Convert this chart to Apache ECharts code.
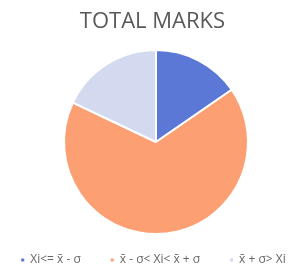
<!DOCTYPE html>
<html>
<head>
<meta charset="utf-8">
<script src="https://cdn.jsdelivr.net/npm/echarts@6/dist/echarts.min.js"></script>
<style>
  html, body { margin: 0; padding: 0; background: #fff; }
  #main { width: 305px; height: 276px; }
</style>
</head>
<body>
<div id="main"></div>
<script>
// 数据
const categories = ['Xi<= x̄ - σ', 'x̄ - σ< Xi< x̄ + σ', 'x̄ + σ> Xi'];
const counts = [6, 26, 7];
const colors = ['#5b78d6', '#fca074', '#d3daf0'];

const chart = echarts.init(document.getElementById('main'));

chart.setOption({
  animation: false,
  title: {
    text: 'TOTAL MARKS',
    left: 'center',
    top: 6,
    textStyle: { fontFamily: 'Open Sans', fontSize: 22, fontWeight: 'normal', color: '#595959' }
  },
  legend: {
    bottom: 5,
    left: 'center',
    itemWidth: 5,
    itemHeight: 5,
    itemGap: 28,
    icon: 'rect',
    textStyle: { fontFamily: 'Open Sans', fontSize: 12, color: '#666' },
    data: categories
  },
  color: colors,
  series: [{
    type: 'pie',
    center: [156, 142],
    radius: 92,
    startAngle: 90,
    clockwise: true,
    label: { show: false },
    labelLine: { show: false },
    itemStyle: { borderColor: '#fff', borderWidth: 2 },
    data: categories.map((c, i) => ({ name: c, value: counts[i] }))
  }]
});
</script>
</body>
</html>
